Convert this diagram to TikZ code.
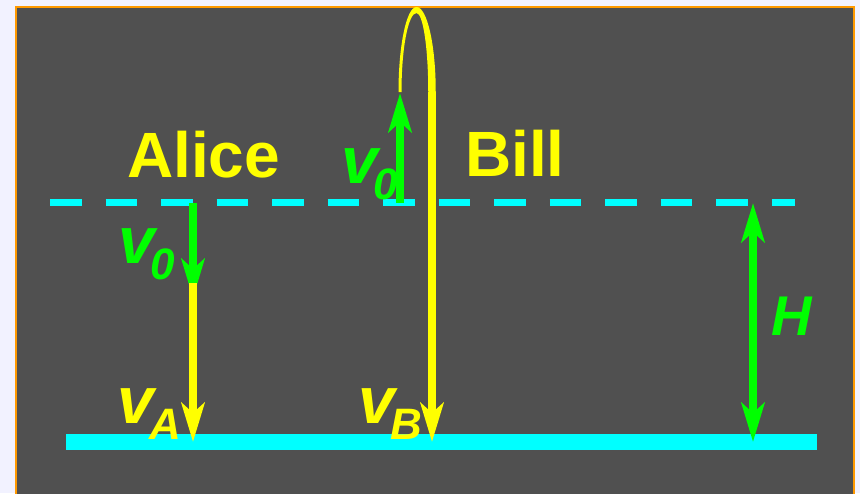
\documentclass[tikz,border=0pt]{standalone}
\usepackage{fontspec}
\setmainfont{Liberation Sans}
\usetikzlibrary{arrows.meta}
\definecolor{pagebg}{RGB}{242,242,255}
\definecolor{panel}{RGB}{80,80,80}
\definecolor{rim}{RGB}{255,153,0}
\definecolor{lvl}{RGB}{0,255,255}
\definecolor{vyel}{RGB}{255,255,0}
\definecolor{vgrn}{RGB}{0,255,0}
\newcommand{\vel}[1]{{\fontsize{66}{66}\selectfont v}\kern-4pt\raisebox{-16pt}{\fontsize{44}{44}\selectfont #1}}

\begin{document}
\begin{tikzpicture}[x=1pt,y=-1pt,>={Stealth[length=39pt,width=23pt,inset=10pt]},
  vec/.style={line width=7.5pt},
  person/.style={inner sep=0pt,anchor=base west,text=vyel,font=\bfseries\fontsize{64}{64}\selectfont},
  qty/.style={inner sep=0pt,anchor=base west,font=\bfseries\itshape}]
% ---- background and panel ----
\useasboundingbox[fill=pagebg] (0,0) rectangle (860,493);
\draw[rim,line width=2pt,fill=panel] (16,7) rectangle (854,510);
% ---- release level (dashed) and ground ----
\draw[lvl,line width=7pt,dash pattern=on 31.5pt off 24pt] (50,202) -- (795,202);
\fill[lvl] (66,434) rectangle (817,450);
% ---- end points ----
\coordinate (aStart) at (193,203);
\coordinate (aTip) at (193,298);
\coordinate (aJoin) at (193,283);
\coordinate (aEnd) at (193,442);
\coordinate (bStart) at (400,203);
\coordinate (bTip) at (400,93);
\coordinate (bDown) at (432,92);
\coordinate (bEnd) at (432,442);
\coordinate (hTop) at (753,203);
\coordinate (hBot) at (753,442);
% ---- Alice: thrown down ----
\draw[vgrn,vec,->] (aStart) -- (aTip);
\draw[vyel,vec,->] (aJoin) -- (aEnd);
% ---- Bill: thrown up, turns over, falls ----
\draw[vgrn,vec,->] (bStart) -- (bTip);
\fill[vyel] (398.5,92) arc[start angle=180,end angle=270,x radius=18,y radius=85]
  arc[start angle=270,end angle=360,x radius=19.25,y radius=85] -- (428.25,92)
  arc[start angle=0,end angle=-90,x radius=11.75,y radius=79]
  arc[start angle=270,end angle=180,x radius=15,y radius=79] -- cycle;
\draw[vyel,vec,->] (bDown) -- (bEnd);
% ---- height H ----
\draw[vgrn,vec,<->] (hTop) -- (hBot);
% ---- labels ----
\node[person] (alice) at (127,177) {Alice};
\node[person] (bill) at (465,176) {Bill};
\node[qty,text=vgrn] (vAzero) at (118,263) {\vel{0}};
\node[qty,text=vgrn] (vBzero) at (341,183) {\vel{0}};
\node[qty,text=vyel] (vA) at (117,423) {\vel{A}};
\node[qty,text=vyel] (vB) at (358,423) {\vel{B}};
\node[qty,text=vgrn,font=\bfseries\itshape\fontsize{56}{56}\selectfont] (hLbl) at (771,335) {H};
\end{tikzpicture}
\end{document}
